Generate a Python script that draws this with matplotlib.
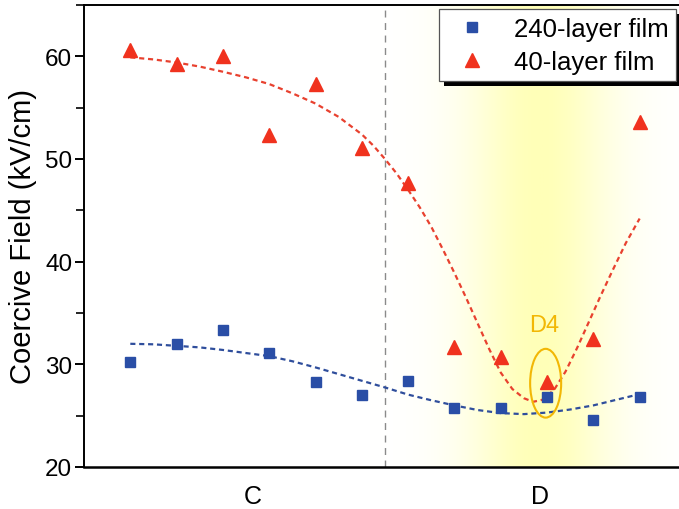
import numpy as np
import matplotlib
matplotlib.use("Agg")
import matplotlib.pyplot as plt
from matplotlib.patches import Ellipse, Rectangle
from matplotlib.colors import LinearSegmentedColormap
from matplotlib.transforms import IdentityTransform

plt.rcParams['font.family'] = ['Liberation Sans', 'DejaVu Sans']

# ---- data ----
sample_idx = [1, 2, 3, 4, 5, 6, 7, 8, 9, 10, 11, 12]
film240 = [30.2, 32.0, 33.3, 31.1, 28.3, 27.0, 28.4, 25.7, 25.7, 26.8, 24.6, 26.8]
film40 = [60.6, 59.3, 60.0, 52.3, 57.3, 51.1, 47.7, 31.7, 30.7, 28.3, 32.5, 53.6]

fit40_x = [1, 1.5, 2, 2.5, 3, 3.5, 4, 4.5, 5, 5.5, 6, 6.25, 6.5, 6.75, 7, 7.25, 7.5, 7.75,
           8, 8.25, 8.5, 8.75, 9, 9.25, 9.5, 9.7, 9.9, 10.15, 10.4, 10.65, 10.9, 11.15,
           11.4, 11.7, 12]
fit40_y = [59.9, 59.7, 59.4, 59.0, 58.5, 57.95, 57.3, 56.4, 55.4, 54.1, 52.4, 51.3, 50.0,
           48.6, 47.0, 45.3, 43.4, 41.2, 38.9, 36.5, 34.0, 31.5, 29.2, 27.6, 26.7, 26.35,
           26.55, 27.5, 29.3, 31.6, 34.1, 36.6, 39.0, 41.8, 44.2]

fit240_x = [1, 1.5, 2, 2.5, 3, 3.5, 4, 4.5, 5, 5.5, 6, 6.5, 7, 7.5, 8, 8.5, 9, 9.5, 10,
            10.5, 11, 11.5, 12]
fit240_y = [32.0, 31.95, 31.8, 31.65, 31.4, 31.1, 30.8, 30.3, 29.7, 29.05, 28.4, 27.75,
            27.05, 26.5, 26.0, 25.55, 25.25, 25.15, 25.3, 25.6, 26.0, 26.55, 27.1]

group_labels = ['C', 'D']
group_pos = [3.65, 9.85]
divider_x = 6.5
highlight_center = 9.85
d4_idx = 10

# ---- figure ----
fig = plt.figure(figsize=(6.79, 5.10), dpi=100)
ax = fig.add_axes([84 / 679, 42 / 510, 1 - 84 / 679, 462 / 510])

xmin, xmax = 0.0, 12.85
ymin, ymax = 20, 65
ax.set_xlim(xmin, xmax)
ax.set_ylim(ymin, ymax)

# yellow highlight gradient
xs = np.linspace(xmin, xmax, 600)
g = np.exp(-0.5 * ((xs - highlight_center) / 1.1) ** 2)
cmap = LinearSegmentedColormap.from_list('hl', ['#FFFFFF', '#FFFFB8'])
ax.imshow(g[np.newaxis, :], aspect='auto', cmap=cmap, vmin=0, vmax=1,
          extent=[xmin, xmax, ymin, ymax], zorder=0, interpolation='bilinear')

ax.axvline(divider_x, color='#8a8a8a', lw=1.0, ls=(0, (5, 4)), zorder=1)

red = '#F0321E'
blue = '#2A4EA6'
ax.plot(fit40_x, fit40_y, color='#E8412F', lw=1.6, ls=(0, (2.3, 1.7)), zorder=2)
ax.plot(fit240_x, fit240_y, color='#2F4E9C', lw=1.6, ls=(0, (2.3, 1.7)), zorder=2)

ax.plot(sample_idx, film240, ls='none', marker='s', ms=7.8, color=blue,
        mec=blue, label='240-layer film', zorder=3)
ax.plot(sample_idx, film40, ls='none', marker='^', ms=9.8, color=red,
        mec=red, label='40-layer film', zorder=3)

# D4 highlight
d4x = sample_idx[d4_idx - 1]
ax.add_patch(Ellipse((d4x - 0.03, 28.16), width=0.67, height=6.7, fill=False,
                     edgecolor='#F2B705', lw=1.5, zorder=4))
ax.text(d4x - 0.07, 33.8, 'D4', color='#F2B705', fontsize=17,
        ha='center', va='center', zorder=4)

# axes styling
for s in ['top', 'left', 'bottom']:
    ax.spines[s].set_linewidth(1.4)
ax.spines['bottom'].set_linewidth(1.8)
ax.spines['right'].set_visible(False)

ax.set_yticks([20, 30, 40, 50, 60])
ax.set_yticks([25, 35, 45, 55, 65], minor=True)
ax.tick_params(axis='y', which='major', direction='out', length=6.5, width=1.4,
               labelsize=17.5, pad=2)
ax.tick_params(axis='y', which='minor', direction='out', length=6, width=1.2)
ax.set_xticks(group_pos)
ax.set_xticklabels(group_labels)
ax.tick_params(axis='x', length=0, labelsize=18, pad=12)
ax.set_ylabel('Coercive Field (kV/cm)', fontsize=21, labelpad=6)

leg = ax.legend(loc='upper right', bbox_to_anchor=(676 / 679, 500 / 510),
                bbox_transform=fig.transFigure, fontsize=18.5, frameon=True,
                fancybox=False, shadow=False, borderpad=0.3, labelspacing=0.35,
                handletextpad=0.6, handlelength=2.0, borderaxespad=0)
leg.get_frame().set_edgecolor('#555555')
leg.get_frame().set_linewidth(0.9)
leg.get_frame().set_alpha(1)
leg.set_zorder(6)

fig.canvas.draw()
bb = leg.get_window_extent()
shadow = Rectangle((bb.x0 + 5, bb.y0 - 5), bb.width, bb.height, transform=IdentityTransform(),
                   facecolor='black', edgecolor='none', zorder=5.5, clip_on=False)
ax.add_artist(shadow)

fig.savefig('out.png', dpi=100)
